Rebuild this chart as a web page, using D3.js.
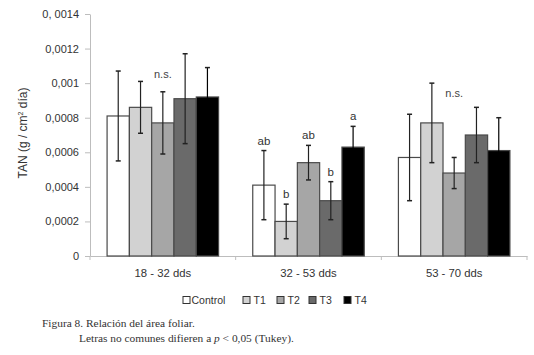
<!DOCTYPE html>
<html>
<head>
<meta charset="utf-8">
<script src="https://cdn.jsdelivr.net/npm/d3@7"></script>
<style>
  body { margin: 0; background: #fff; }
  svg { display: block; }
</style>
</head>
<body>
<svg id="chart" width="534" height="355"></svg>
<script>
// data
let periods = ["18 - 32 dds", "32 - 53 dds", "53 - 70 dds"]
let treatments = ["Control", "T1", "T2", "T3", "T4"]
let colors = ["#ffffff", "#d2d2d2", "#a6a6a6", "#6a6a6a", "#000000"]

let means = [
    [0.00081, 0.00086, 0.00077, 0.00091, 0.00092],
    [0.00041, 0.00020, 0.00054, 0.00032, 0.00063],
    [0.00057, 0.00077, 0.00048, 0.00070, 0.00061]
]
let errors = [
    [0.00026, 0.00015, 0.00018, 0.00026, 0.00017],
    [0.00020, 0.00010, 0.00010, 0.00011, 0.00012],
    [0.00025, 0.00023, 0.00009, 0.00016, 0.00019]
]
// letters above bars (Tukey)
let letters = [
    [null, null, null, null, null],
    ["ab", "b", "ab", "b", "a"],
    [null, null, null, null, null]
]
let nsValues = [0.00103, null, 0.00092]

let yTicks = [0, 0.0002, 0.0004, 0.0006, 0.0008, 0.001, 0.0012, 0.0014]
let yTickLabels = ["0", "0,0002", "0,0004", "0,0006", "0,0008", "0,001", "0,0012", "0, 0014"]

let margins = {top: 14, left: 90, right: 7, bottom: 99}
let svg = d3.select("#chart")
let width = 534 - margins.left - margins.right
let height = 355 - margins.top - margins.bottom

let x = d3.scaleBand().domain(periods).range([0, width]).paddingInner(0).paddingOuter(0)
let inner = d3.scaleBand().domain(treatments).range([0, 111.5]).padding(0)
let y = d3.scaleLinear().domain([0, 0.0014]).range([height, 0])

let chart = svg.append("g").attr("transform", `translate(${margins.left},${margins.top})`)

// Y AXIS
let yAxis = chart.append("g")
    .call(d3.axisLeft(y).tickValues(yTicks).tickSize(5).tickSizeOuter(0)
        .tickFormat((d, i) => yTickLabels[i]))
yAxis.select(".domain").attr("stroke", "#bdbdbd")
yAxis.selectAll(".tick line").attr("stroke", "#bdbdbd")
yAxis.selectAll("text")
    .attr("x", -11)
    .attr("fill", "#333")
    .attr("font-family", "Liberation Sans, Arial, sans-serif")
    .attr("font-size", 11)

// X AXIS
let xAxis = chart.append("g")
    .attr("transform", `translate(0,${height})`)
    .call(d3.axisBottom(x).tickSize(0).tickSizeOuter(0))
xAxis.select(".domain").attr("stroke", "#bdbdbd")
xAxis.selectAll("text")
    .attr("dy", 0)
    .attr("y", 21)
    .attr("fill", "#333")
    .attr("font-family", "Liberation Sans, Arial, sans-serif")
    .attr("font-size", 11.3)
// separators between periods
chart.append("g")
    .selectAll("line")
    .data([0, 1, 2, 3])
    .enter()
    .append("line")
        .attr("x1", i => i * x.step())
        .attr("x2", i => i * x.step())
        .attr("y1", height)
        .attr("y2", height + 4)
        .attr("stroke", "#bdbdbd")

// BARS
let groups = chart.selectAll(".group")
    .data(periods)
    .enter()
    .append("g")
        .classed("group", true)
        .attr("transform", p => `translate(${x(p) + (x.bandwidth() - 111.5) / 2},0)`)

groups.each(function(p, gi) {
    let g = d3.select(this)
    let rows = treatments.map((t, ti) => ({t: t, ti: ti, v: means[gi][ti], e: errors[gi][ti], l: letters[gi][ti]}))

    g.selectAll("rect")
        .data(rows)
        .enter()
        .append("rect")
            .attr("x", d => inner(d.t))
            .attr("y", d => y(d.v))
            .attr("width", inner.bandwidth())
            .attr("height", d => height - y(d.v))
            .attr("fill", d => colors[d.ti])
            .attr("stroke", "#4a4a4a")
            .attr("stroke-width", 1.2)

    // error bars
    let eb = g.selectAll(".err")
        .data(rows)
        .enter()
        .append("g")
            .classed("err", true)
            .attr("transform", d => `translate(${inner(d.t) + inner.bandwidth() / 2},0)`)
    eb.append("line")
        .attr("y1", d => y(d.v + d.e))
        .attr("y2", d => y(d.v - d.e))
        .attr("stroke", d => d.ti == 4 ? "#000" : "#222")
        .attr("stroke-width", 1.2)
    eb.append("line")
        .attr("x1", -2.5).attr("x2", 2.5)
        .attr("y1", d => y(d.v + d.e)).attr("y2", d => y(d.v + d.e))
        .attr("stroke", "#222").attr("stroke-width", 1.5)
    eb.append("line")
        .attr("x1", -2.5).attr("x2", 2.5)
        .attr("y1", d => y(d.v - d.e)).attr("y2", d => y(d.v - d.e))
        .attr("stroke", d => d.ti == 4 ? "#000" : "#222").attr("stroke-width", 1.5)

    // letters
    g.selectAll(".letter")
        .data(rows.filter(d => d.l))
        .enter()
        .append("text")
            .classed("letter", true)
            .attr("x", d => inner(d.t) + inner.bandwidth() / 2)
            .attr("y", d => y(d.v + d.e) - 6)
            .attr("text-anchor", "middle")
            .attr("fill", "#333")
            .attr("font-family", "Liberation Sans, Arial, sans-serif")
            .attr("font-size", 11.5)
            .text(d => d.l)

    if (nsValues[gi] != null) {
        g.append("text")
            .attr("x", 55.75)
            .attr("y", y(nsValues[gi]))
            .attr("text-anchor", "middle")
            .attr("fill", "#444")
            .attr("font-family", "Liberation Sans, Arial, sans-serif")
            .attr("font-size", 11)
            .text("n.s.")
    }
})

// Y AXIS LABEL
svg.append("text")
    .attr("transform", "translate(27,133) rotate(-90)")
    .attr("text-anchor", "middle")
    .attr("fill", "#333")
    .attr("font-family", "Liberation Sans, Arial, sans-serif")
    .attr("font-size", 12)
    .html("TAN (g / cm<tspan dy='-4' font-size='7'>2</tspan><tspan dy='4'> día)</tspan>")

// LEGEND
let legendX = [183, 243, 277, 309, 344]
let legend = svg.append("g")
    .selectAll("g")
    .data(treatments)
    .enter()
    .append("g")
        .attr("transform", (t, i) => `translate(${legendX[i]},296.5)`)
legend.append("rect")
    .attr("width", 7).attr("height", 7)
    .attr("fill", (t, i) => colors[i])
    .attr("stroke", "#333").attr("stroke-width", 1)
legend.append("text")
    .attr("x", (t, i) => i == 0 ? 8.5 : 10.5)
    .attr("y", 7.5)
    .attr("fill", "#333")
    .attr("font-family", "Liberation Sans, Arial, sans-serif")
    .attr("font-size", 10.5)
    .text(t => t)

// CAPTION
let caption = svg.append("g")
    .attr("font-family", "Liberation Serif, Times New Roman, serif")
    .attr("font-size", 11.4)
    .attr("fill", "#333")
caption.append("text")
    .attr("x", 42).attr("y", 327)
    .text("Figura 8. Relación del área foliar.")
caption.append("text")
    .attr("x", 79).attr("y", 342)
    .html("Letras no comunes difieren a <tspan font-style='italic'>p</tspan> &lt; 0,05 (Tukey).")
</script>
</body>
</html>
